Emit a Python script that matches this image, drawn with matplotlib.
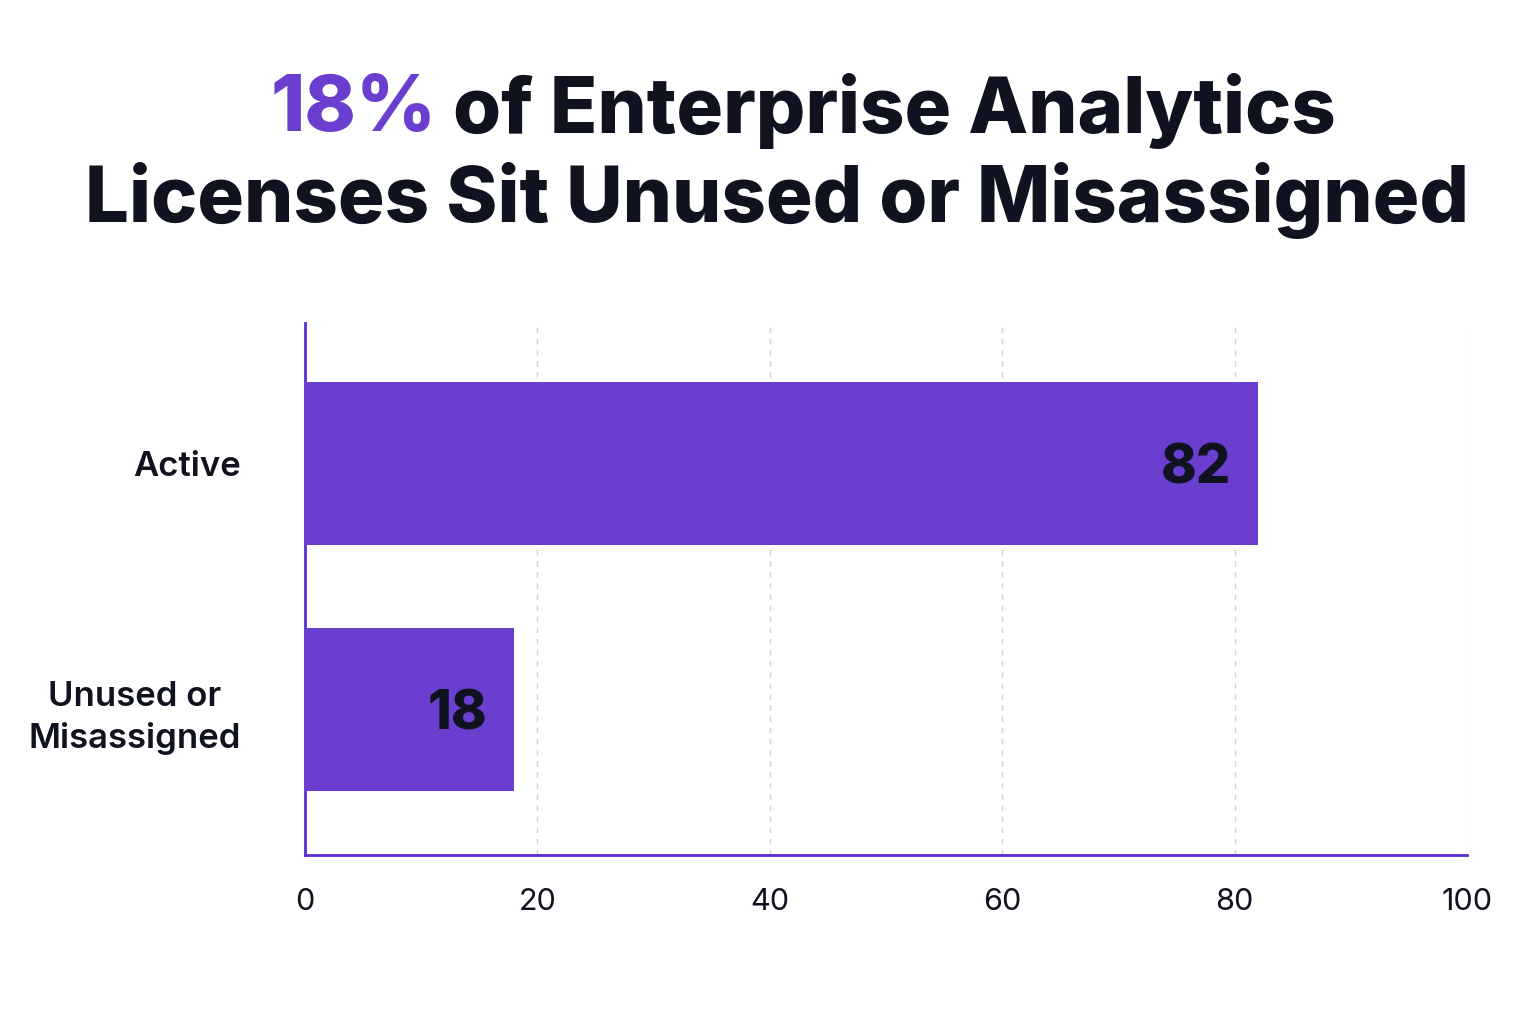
import matplotlib.pyplot as plt

# donnees
categories = ["Unused or\nMisassigned", "Active"]
values = [18, 82]
xticks = [0, 20, 40, 60, 80, 100]

purple = "#6a3fd0"
dark = "#10131f"

plt.rcParams['font.family'] = ['Inter', 'DejaVu Sans']

fig = plt.figure(figsize=(15.36, 10.24), dpi=100)
fig.patch.set_facecolor("white")
ax = fig.add_axes([0.1986, 0.165, 0.7565, 0.5196])

pos = list(range(len(categories)))
ax.barh(pos, values, height=0.66, color=purple, zorder=3)

# etiquettes des valeurs dans les barres
for p, v in zip(pos, values):
    ax.text(v - 2.3, p, str(v), ha="right", va="center_baseline", fontsize=39,
            fontweight="heavy", color=dark, zorder=4)

ax.set_xlim(0, 100)
ax.set_ylim(-0.59, 1.57)
ax.set_xticks(xticks)
ax.set_xticklabels([str(t) for t in xticks], fontsize=22, color=dark)
ax.set_yticks(pos)
ax.set_yticklabels(categories, fontsize=25, fontweight="semibold", color=dark,
                   multialignment="center", linespacing=1.35)
ax.tick_params(axis="both", length=0)
ax.tick_params(axis="x", pad=24)
ax.tick_params(axis="y", pad=46)

ax.grid(axis="x", linestyle=(0, (4, 4)), color="#d4d4d8", linewidth=1, zorder=0)
ax.set_axisbelow(True)
for s in ["top", "right"]:
    ax.spines[s].set_visible(False)
for s in ["left", "bottom"]:
    ax.spines[s].set_color("#5b2bd8")
    ax.spines[s].set_linewidth(2)

# titre sur deux lignes, "18%" en violet
fs = 56
t1 = fig.text(0.5, 0.892, "18%", fontsize=fs, fontweight="heavy", color=purple,
              ha="left", va="center")
t2 = fig.text(0.5, 0.892, " of Enterprise Analytics", fontsize=fs,
              fontweight="heavy", color=dark, ha="left", va="center")
fig.canvas.draw()
r = fig.canvas.get_renderer()
w1 = t1.get_window_extent(r).width
w2 = t2.get_window_extent(r).width
x0 = 0.523 * fig.bbox.width - (w1 + w2) / 2
t1.set_x(x0 / fig.bbox.width)
t2.set_x((x0 + w1) / fig.bbox.width)
fig.text(0.506, 0.804, "Licenses Sit Unused or Misassigned", fontsize=fs,
         fontweight="heavy", color=dark, ha="center", va="center")

fig.savefig("out.png", dpi=100, facecolor="white")
